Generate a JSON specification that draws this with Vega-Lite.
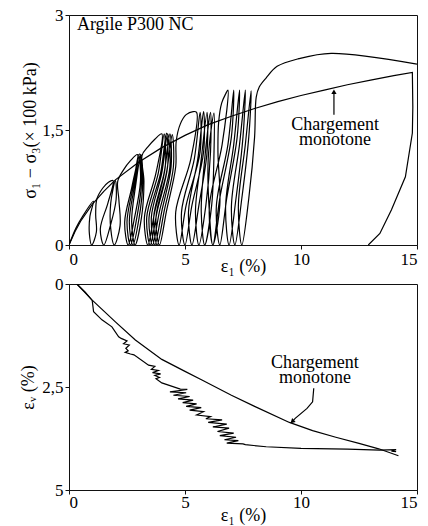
{
  "$schema": "https://vega.github.io/schema/vega-lite/v6.json",
  "usermeta": {"embedOptions": {"actions": false}},
  "padding": {"left": 19, "top": 5, "right": 0, "bottom": 0},
  "background": "white",
  "config": {
    "font": "Liberation Serif, Times New Roman, DejaVu Serif, serif",
    "text": {"font": "Liberation Serif, Times New Roman, DejaVu Serif, serif"},
    "view": {"stroke": "#111", "strokeWidth": 1},
    "axis": {"grid": false, "domainColor": "#111", "tickColor": "#111", "tickSize": 4, "labelFont": "Liberation Serif, Times New Roman, DejaVu Serif, serif", "titleFont": "Liberation Serif, Times New Roman, DejaVu Serif, serif", "labelFontSize": 17, "labelColor": "black", "labelPadding": 2, "titleFontSize": 18, "titleFontWeight": "normal", "titleColor": "black"}
  },
  "datasets": {
    "top": [
      {"s":"c","x":0,"y":0},{"s":"c","x":0.3,"y":0.22},{"s":"c","x":0.6,"y":0.38},{"s":"c","x":1.05,"y":0.57},
      {"s":"c","x":0.9,"y":0.37},{"s":"c","x":0.88,"y":0.14},{"s":"c","x":0.98,"y":0},{"s":"c","x":1.18,"y":0.17},{"s":"c","x":1.15,"y":0.4},{"s":"c","x":1.2,"y":0.6},{"s":"c","x":1.45,"y":0.74},{"s":"c","x":1.7,"y":0.82},{"s":"c","x":1.9,"y":0.84},
      {"s":"c","x":1.68,"y":0.55},{"s":"c","x":1.35,"y":0.21},{"s":"c","x":1.5,"y":0},{"s":"c","x":1.78,"y":0.25},{"s":"c","x":2.03,"y":0.59},{"s":"c","x":2.0,"y":0.84},
      {"s":"c","x":1.8,"y":0.55},{"s":"c","x":1.8,"y":0.21},{"s":"c","x":1.95,"y":0},{"s":"c","x":2.2,"y":0.25},{"s":"c","x":2.15,"y":0.59},{"s":"c","x":2.1,"y":0.83},
      {"s":"c","x":2.35,"y":0.98},{"s":"c","x":2.65,"y":1.1},{"s":"c","x":2.95,"y":1.18},
      {"s":"c","x":2.72,"y":0.77},{"s":"c","x":2.4,"y":0.3},{"s":"c","x":2.55,"y":0},{"s":"c","x":2.82,"y":0.35},{"s":"c","x":3.08,"y":0.83},{"s":"c","x":3.0,"y":1.18},
      {"s":"c","x":2.77,"y":0.77},{"s":"c","x":2.5,"y":0.3},{"s":"c","x":2.65,"y":0},{"s":"c","x":2.92,"y":0.35},{"s":"c","x":3.13,"y":0.83},{"s":"c","x":3.05,"y":1.19},
      {"s":"c","x":2.82,"y":0.77},{"s":"c","x":2.6,"y":0.3},{"s":"c","x":2.75,"y":0},{"s":"c","x":3.02,"y":0.35},{"s":"c","x":3.18,"y":0.83},{"s":"c","x":3.1,"y":1.18},
      {"s":"c","x":2.87,"y":0.77},{"s":"c","x":2.7,"y":0.3},{"s":"c","x":2.85,"y":0},{"s":"c","x":3.12,"y":0.35},{"s":"c","x":3.23,"y":0.83},{"s":"c","x":3.15,"y":1.17},
      {"s":"c","x":3.4,"y":1.28},{"s":"c","x":3.7,"y":1.38},{"s":"c","x":4.0,"y":1.45},
      {"s":"c","x":3.75,"y":0.94},{"s":"c","x":3.25,"y":0.36},{"s":"c","x":3.4,"y":0},{"s":"c","x":3.7,"y":0.44},{"s":"c","x":4.15,"y":1.02},{"s":"c","x":4.1,"y":1.45},
      {"s":"c","x":3.85,"y":0.94},{"s":"c","x":3.35,"y":0.36},{"s":"c","x":3.5,"y":0},{"s":"c","x":3.8,"y":0.44},{"s":"c","x":4.25,"y":1.02},{"s":"c","x":4.2,"y":1.46},
      {"s":"c","x":3.95,"y":0.94},{"s":"c","x":3.45,"y":0.36},{"s":"c","x":3.6,"y":0},{"s":"c","x":3.9,"y":0.44},{"s":"c","x":4.35,"y":1.02},{"s":"c","x":4.25,"y":1.45},
      {"s":"c","x":4.0,"y":0.94},{"s":"c","x":3.55,"y":0.36},{"s":"c","x":3.7,"y":0},{"s":"c","x":4.0,"y":0.44},{"s":"c","x":4.4,"y":1.02},{"s":"c","x":4.35,"y":1.45},
      {"s":"c","x":4.1,"y":0.94},{"s":"c","x":3.65,"y":0.36},{"s":"c","x":3.8,"y":0},{"s":"c","x":4.1,"y":0.44},{"s":"c","x":4.5,"y":1.02},{"s":"c","x":4.45,"y":1.44},
      {"s":"c","x":4.2,"y":0.94},{"s":"c","x":3.75,"y":0.36},{"s":"c","x":3.9,"y":0},{"s":"c","x":4.2,"y":0.44},{"s":"c","x":4.6,"y":1.02},{"s":"c","x":4.62,"y":1.35},{"s":"c","x":4.8,"y":1.58},{"s":"c","x":5.05,"y":1.7},{"s":"c","x":5.35,"y":1.74},{"s":"c","x":5.5,"y":1.73},
      {"s":"c","x":5.25,"y":1.12},{"s":"c","x":4.6,"y":0.43},{"s":"c","x":4.75,"y":0},{"s":"c","x":5.05,"y":0.52},{"s":"c","x":5.65,"y":1.21},{"s":"c","x":5.65,"y":1.73},
      {"s":"c","x":5.4,"y":1.12},{"s":"c","x":4.85,"y":0.43},{"s":"c","x":5.0,"y":0},{"s":"c","x":5.3,"y":0.52},{"s":"c","x":5.8,"y":1.21},{"s":"c","x":5.8,"y":1.74},
      {"s":"c","x":5.55,"y":1.12},{"s":"c","x":5.15,"y":0.43},{"s":"c","x":5.3,"y":0},{"s":"c","x":5.6,"y":0.52},{"s":"c","x":5.95,"y":1.21},{"s":"c","x":5.95,"y":1.73},
      {"s":"c","x":5.7,"y":1.12},{"s":"c","x":5.45,"y":0.43},{"s":"c","x":5.6,"y":0},{"s":"c","x":5.9,"y":0.52},{"s":"c","x":6.1,"y":1.21},{"s":"c","x":6.1,"y":1.73},
      {"s":"c","x":5.85,"y":1.12},{"s":"c","x":5.7,"y":0.43},{"s":"c","x":5.85,"y":0},{"s":"c","x":6.15,"y":0.52},{"s":"c","x":6.25,"y":1.21},{"s":"c","x":6.25,"y":1.72},
      {"s":"c","x":6.0,"y":1.12},{"s":"c","x":6.05,"y":0.43},{"s":"c","x":6.2,"y":0},{"s":"c","x":6.5,"y":0.52},{"s":"c","x":6.42,"y":1.21},{"s":"c","x":6.45,"y":1.6},{"s":"c","x":6.58,"y":1.85},{"s":"c","x":6.75,"y":1.97},{"s":"c","x":6.85,"y":2.02},
      {"s":"c","x":6.6,"y":1.31},{"s":"c","x":6.05,"y":0.5},{"s":"c","x":6.2,"y":0},{"s":"c","x":6.5,"y":0.61},{"s":"c","x":7.0,"y":1.41},{"s":"c","x":7.1,"y":2.02},
      {"s":"c","x":6.85,"y":1.31},{"s":"c","x":6.35,"y":0.5},{"s":"c","x":6.5,"y":0},{"s":"c","x":6.8,"y":0.61},{"s":"c","x":7.25,"y":1.41},{"s":"c","x":7.35,"y":2.02},
      {"s":"c","x":7.1,"y":1.31},{"s":"c","x":6.75,"y":0.5},{"s":"c","x":6.9,"y":0},{"s":"c","x":7.2,"y":0.61},{"s":"c","x":7.5,"y":1.41},{"s":"c","x":7.6,"y":2.02},
      {"s":"c","x":7.35,"y":1.31},{"s":"c","x":7.0,"y":0.5},{"s":"c","x":7.15,"y":0},{"s":"c","x":7.45,"y":0.61},{"s":"c","x":7.75,"y":1.41},{"s":"c","x":7.85,"y":2.01},
      {"s":"c","x":7.6,"y":1.31},{"s":"c","x":7.3,"y":0.5},{"s":"c","x":7.45,"y":0},{"s":"c","x":7.75,"y":0.61},{"s":"c","x":8.0,"y":1.41},{"s":"c","x":8.07,"y":1.93},{"s":"c","x":8.2,"y":2.06},{"s":"c","x":8.5,"y":2.18},{"s":"c","x":8.97,"y":2.33},{"s":"c","x":9.9,"y":2.43},{"s":"c","x":11.3,"y":2.5},{"s":"c","x":15,"y":2.36}
    ],
    "topM": [
      {"s":"m","x":0,"y":0},{"s":"m","x":0.25,"y":0.17},{"s":"m","x":0.5,"y":0.31},{"s":"m","x":1,"y":0.53},{"s":"m","x":1.5,"y":0.7},{"s":"m","x":2,"y":0.85},{"s":"m","x":3,"y":1.08},{"s":"m","x":4,"y":1.27},{"s":"m","x":5,"y":1.43},{"s":"m","x":6,"y":1.57},{"s":"m","x":7,"y":1.68},{"s":"m","x":8,"y":1.78},{"s":"m","x":9,"y":1.87},{"s":"m","x":10,"y":1.95},{"s":"m","x":11,"y":2.02},{"s":"m","x":12,"y":2.09},{"s":"m","x":13,"y":2.15},{"s":"m","x":14,"y":2.21},{"s":"m","x":14.8,"y":2.25},{"s":"m","x":14.82,"y":1.8},{"s":"m","x":14.8,"y":1.46},{"s":"m","x":14.5,"y":0.89},{"s":"m","x":13.9,"y":0.46},{"s":"m","x":13.4,"y":0.15},{"s":"m","x":12.9,"y":0},
      {"s":"a","x":11.42,"y":1.7},{"s":"a","x":11.42,"y":2.0}
    ],
    "bot": [
      {"s":"c","x":0.34,"y":0},{"s":"c","x":0.7,"y":0.2},{"s":"c","x":1.0,"y":0.4},{"s":"c","x":1.06,"y":0.67},{"s":"c","x":1.42,"y":0.87},{"s":"c","x":1.85,"y":1.04},{"s":"c","x":2.14,"y":1.28},
      {"s":"c","x":2.25,"y":1.32},{"s":"c","x":2.5,"y":1.38},{"s":"c","x":2.35,"y":1.45},{"s":"c","x":2.6,"y":1.48},{"s":"c","x":2.45,"y":1.56},{"s":"c","x":2.55,"y":1.62},{"s":"c","x":2.42,"y":1.66},{"s":"c","x":2.65,"y":1.7},{"s":"c","x":2.8,"y":1.72},
      {"s":"c","x":3.43,"y":1.97},{"s":"c","x":3.7,"y":2.0},{"s":"c","x":3.55,"y":2.07},{"s":"c","x":3.85,"y":2.1},{"s":"c","x":3.6,"y":2.15},{"s":"c","x":3.95,"y":2.18},{"s":"c","x":3.7,"y":2.22},{"s":"c","x":3.9,"y":2.27},{"s":"c","x":3.75,"y":2.3},{"s":"c","x":4.0,"y":2.4},
      {"s":"c","x":4.8,"y":2.55},{"s":"c","x":5.1,"y":2.56},{"s":"c","x":4.35,"y":2.62},{"s":"c","x":5.05,"y":2.64},{"s":"c","x":4.5,"y":2.7},{"s":"c","x":5.2,"y":2.73},{"s":"c","x":4.7,"y":2.79},{"s":"c","x":5.35,"y":2.82},{"s":"c","x":4.9,"y":2.88},{"s":"c","x":5.5,"y":2.91},{"s":"c","x":5.05,"y":2.97},{"s":"c","x":5.7,"y":3.0},{"s":"c","x":5.2,"y":3.06},{"s":"c","x":5.8,"y":3.1},
      {"s":"c","x":5.5,"y":3.18},{"s":"c","x":6.1,"y":3.22},{"s":"c","x":5.9,"y":3.27},{"s":"c","x":6.6,"y":3.3},{"s":"c","x":6.0,"y":3.36},{"s":"c","x":6.8,"y":3.4},{"s":"c","x":6.2,"y":3.47},{"s":"c","x":6.9,"y":3.5},{"s":"c","x":6.4,"y":3.58},{"s":"c","x":7.1,"y":3.62},{"s":"c","x":6.5,"y":3.68},{"s":"c","x":7.2,"y":3.72},{"s":"c","x":6.7,"y":3.78},{"s":"c","x":7.3,"y":3.8},{"s":"c","x":6.8,"y":3.86},{"s":"c","x":7.5,"y":3.88},
      {"s":"c","x":7.6,"y":3.9},{"s":"c","x":8.5,"y":3.95},{"s":"c","x":10,"y":3.99},{"s":"c","x":12,"y":4.01},{"s":"c","x":13.4,"y":4.03},{"s":"c","x":14.1,"y":4.02},{"s":"c","x":13.9,"y":4.06},{"s":"c","x":14.1,"y":4.07},
      {"s":"m","x":0.34,"y":0},{"s":"m","x":1,"y":0.39},{"s":"m","x":2,"y":0.92},{"s":"m","x":2.86,"y":1.36},{"s":"m","x":4,"y":1.83},{"s":"m","x":5,"y":2.12},{"s":"m","x":5.73,"y":2.33},{"s":"m","x":7,"y":2.7},{"s":"m","x":8,"y":2.97},{"s":"m","x":9.5,"y":3.36},{"s":"m","x":10.5,"y":3.56},{"s":"m","x":11.5,"y":3.72},{"s":"m","x":12.5,"y":3.87},{"s":"m","x":13.35,"y":4.0},{"s":"m","x":14.2,"y":4.17},
      {"s":"a","x":10.55,"y":2.53},{"s":"a","x":10.5,"y":2.86},{"s":"a","x":10.26,"y":3.02},{"s":"a","x":9.75,"y":3.26},{"s":"a","x":9.62,"y":3.34}
    ],
    "topLabel": [{"x":0.34,"y":2.87,"t":"Argile P300 NC"}],
    "topText": [
      {"x":11.47,"y":1.565,"t":"Chargement"},
      {"x":11.47,"y":1.37,"t":"monotone"}
    ],
    "botText": [
      {"x":10.6,"y":1.92,"t":"Chargement"},
      {"x":10.6,"y":2.29,"t":"monotone"}
    ],
    "topHead": [{"x":11.42,"y":2.0}],
    "botHead": [{"x":9.62,"y":3.34}]
  },
  "spacing": 39,
  "bounds": "flush",
  "vconcat": [
    {
      "width": 348,
      "height": 230,
      "layer": [
        {
          "data": {"name": "top"},
          "mark": {"type": "line", "color": "black", "strokeWidth": 1.2, "clip": true, "interpolate": "catmull-rom"},
          "encoding": {
            "x": {"field": "x", "type": "quantitative", "scale": {"domain": [0, 15], "nice": false}, "axis": {"values": [0, 5, 10, 15], "title": "ε₁ (%)", "titlePadding": -10}},
            "y": {"field": "y", "type": "quantitative", "scale": {"domain": [0, 3], "nice": false}, "axis": {"values": [0, 1.5, 3], "labelExpr": "replace(format(datum.value, '~g'), '.', ',')", "title": "σ₁ − σ₃(× 100 kPa)", "titlePadding": 2}},
            "detail": {"field": "s"},
            "order": {"value": null}
          }
        },
        {
          "data": {"name": "topM"},
          "mark": {"type": "line", "color": "black", "strokeWidth": 1.2, "clip": true},
          "encoding": {
            "x": {"field": "x", "type": "quantitative"},
            "y": {"field": "y", "type": "quantitative"},
            "detail": {"field": "s"},
            "order": {"value": null}
          }
        },
        {
          "data": {"name": "topHead"},
          "mark": {"type": "point", "shape": "triangle-up", "filled": true, "color": "black", "size": 28, "opacity": 1},
          "encoding": {"x": {"field": "x", "type": "quantitative"}, "y": {"field": "y", "type": "quantitative"}}
        },
        {
          "data": {"name": "topLabel"},
          "mark": {"type": "text", "fontSize": 18, "color": "black", "baseline": "middle", "align": "left"},
          "encoding": {"x": {"field": "x", "type": "quantitative"}, "y": {"field": "y", "type": "quantitative"}, "text": {"field": "t"}}
        },
        {
          "data": {"name": "topText"},
          "mark": {"type": "text", "fontSize": 18, "color": "black", "baseline": "middle", "align": "center"},
          "encoding": {"x": {"field": "x", "type": "quantitative"}, "y": {"field": "y", "type": "quantitative"}, "text": {"field": "t"}}
        }
      ]
    },
    {
      "width": 348,
      "height": 206,
      "layer": [
        {
          "data": {"name": "bot"},
          "mark": {"type": "line", "color": "black", "strokeWidth": 1.2, "clip": true},
          "encoding": {
            "x": {"field": "x", "type": "quantitative", "scale": {"domain": [0, 15], "nice": false}, "axis": {"values": [0, 5, 10, 15], "title": "ε₁ (%)", "labelPadding": 0, "titlePadding": -4}},
            "y": {"field": "y", "type": "quantitative", "scale": {"domain": [0, 5], "reverse": true, "nice": false}, "axis": {"values": [0, 2.5, 5], "labelExpr": "replace(format(datum.value, '~g'), '.', ',')", "title": "εᵥ (%)", "titlePadding": 4}},
            "detail": {"field": "s"},
            "order": {"value": null}
          }
        },
        {
          "data": {"name": "botHead"},
          "mark": {"type": "point", "shape": "triangle-up", "filled": true, "color": "black", "size": 28, "opacity": 1, "angle": 228},
          "encoding": {"x": {"field": "x", "type": "quantitative"}, "y": {"field": "y", "type": "quantitative"}}
        },
        {
          "data": {"name": "botText"},
          "mark": {"type": "text", "fontSize": 18, "color": "black", "baseline": "middle", "align": "center"},
          "encoding": {"x": {"field": "x", "type": "quantitative"}, "y": {"field": "y", "type": "quantitative"}, "text": {"field": "t"}}
        }
      ]
    }
  ]
}
